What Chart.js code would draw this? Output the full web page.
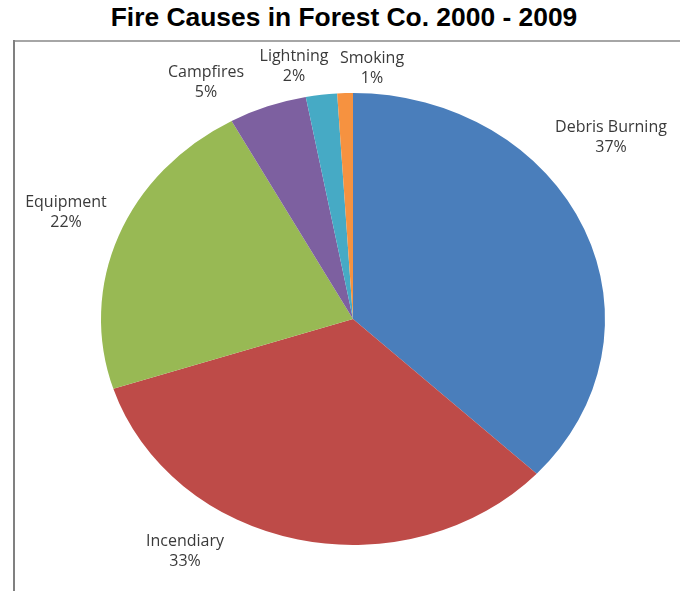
<!DOCTYPE html>
<html>
<head>
<meta charset="utf-8">
<script src="https://cdn.jsdelivr.net/npm/chart.js@4.4.0/dist/chart.umd.min.js"></script>
<style>
  html, body { margin: 0; padding: 0; background: #fff; }
  #wrap { position: relative; width: 680px; height: 591px; overflow: hidden; }
  #title {
    position: absolute; left: 0; width: 688px; top: 3px; margin: 0;
    text-align: center; font: bold 25px "Liberation Sans", Arial, sans-serif; color: #000;
    transform: scaleX(1.056); transform-origin: 344px 0;
  }
  #frame-top { position: absolute; left: 13px; top: 40px; width: 667px; height: 0; border-top: 2px solid #a6a6a6; }
  #frame-left { position: absolute; left: 13px; top: 40px; width: 0; height: 551px; border-left: 2px solid #808080; }
  #pie { position: absolute; left: 0; top: 0; }
</style>
</head>
<body>
<div id="wrap">
  <h1 id="title">Fire Causes in Forest Co. 2000 - 2009</h1>
  <div id="frame-top"></div>
  <div id="frame-left"></div>
  <canvas id="pie" width="680" height="591"></canvas>
</div>
<script>
// data
const causes  = ["Debris Burning", "Incendiary", "Equipment", "Campfires", "Lightning", "Smoking"];
const percent = [37, 33, 22, 5, 2, 1];
const colors  = ["#4a7ebb", "#be4b48", "#98b954", "#7d60a0", "#46aac5", "#f69240"];

// label anchors, px from pie centre (x, baseline of first line)
const labelSpots = [[258, -187], [-168, 227], [-287, -112], [-147, -242], [-59, -258], [19, -256]];
const STRETCH_X = 252 / 226; // the pie is a bit wider than tall

const ellipse = {
  id: "ellipse",
  beforeDatasetsDraw(chart) {
    const arc = chart.getDatasetMeta(0).data[0];
    const ctx = chart.ctx;
    ctx.save();
    ctx.translate(arc.x, arc.y);
    ctx.scale(STRETCH_X, 1);
    ctx.translate(-arc.x, -arc.y);
  },
  afterDatasetsDraw(chart) {
    chart.ctx.restore();
  }
};

const sliceLabels = {
  id: "sliceLabels",
  afterDraw(chart) {
    const ctx = chart.ctx;
    const meta = chart.getDatasetMeta(0);
    ctx.save();
    ctx.font = '16px "Open Sans", sans-serif';
    ctx.fillStyle = "#3a3a3a";
    ctx.textAlign = "center";
    ctx.textBaseline = "alphabetic";
    meta.data.forEach((arc, i) => {
      const x = arc.x + labelSpots[i][0];
      const y = arc.y + labelSpots[i][1];
      ctx.fillText(causes[i], x, y);
      ctx.fillText(percent[i] + "%", x, y + 20);
    });
    ctx.restore();
  }
};

window.addEventListener("load", () => {
  const ctx = document.getElementById("pie").getContext("2d");
  new Chart(ctx, {
    type: "pie",
    data: {
      labels: causes,
      datasets: [{ data: percent, backgroundColor: colors, borderColor: colors, borderWidth: 0, hoverOffset: 0 }]
    },
    options: {
      responsive: false,
      animation: false,
      layout: { padding: { top: 93, bottom: 46, left: 120, right: 94 } },
      plugins: { legend: { display: false }, tooltip: { enabled: false }, title: { display: false } }
    },
    plugins: [ellipse, sliceLabels]
  });
});
</script>
</body>
</html>
